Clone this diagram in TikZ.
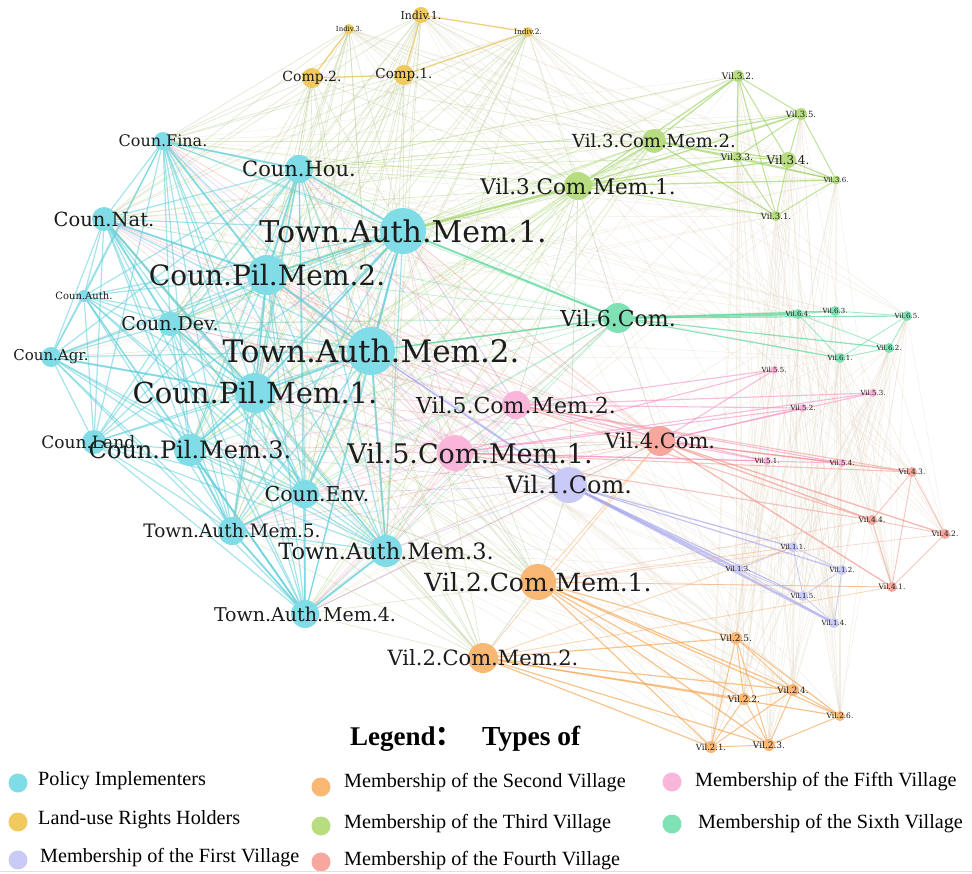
\documentclass[tikz,border=0pt]{standalone}
\usepackage{fontspec}
\setmainfont{Liberation Serif}
\newfontfamily\labfont{DejaVu Serif}
\newfontfamily\cjk{Noto Sans CJK SC}

\definecolor{cyN}{HTML}{80DCE6}
\definecolor{ylN}{HTML}{F1C95E}
\definecolor{grN}{HTML}{B7DD80}
\definecolor{tlN}{HTML}{80E2B4}
\definecolor{pkN}{HTML}{F9B6DA}
\definecolor{saN}{HTML}{F6A79E}
\definecolor{lvN}{HTML}{CACAF7}
\definecolor{orN}{HTML}{F9B774}
\definecolor{cyE}{HTML}{5CCFDA}
\definecolor{ylE}{HTML}{EBC052}
\definecolor{grE}{HTML}{9CD262}
\definecolor{tlE}{HTML}{50D696}
\definecolor{pkE}{HTML}{F590C4}
\definecolor{saE}{HTML}{F08A80}
\definecolor{lvE}{HTML}{A4A4EC}
\definecolor{orE}{HTML}{F5A552}
\definecolor{olE}{HTML}{B3C98A}
\definecolor{mxE}{HTML}{A9BFA2}
\definecolor{fnE}{HTML}{E2D6C0}
\definecolor{labink}{HTML}{1C1C1C}

\pgfdeclarelayer{paper}
\pgfdeclarelayer{edges}
\pgfdeclarelayer{labels}
\pgfsetlayers{paper,edges,main,labels}

\tikzset{
  vdot/.style={circle, inner sep=0pt, draw=none},
  vlab/.style={inner sep=0pt, text=labink},
  ecy/.style={draw=cyE, line width=1.2pt, opacity=.55},
  ecyh/.style={draw=cyE, line width=2pt, opacity=.55},
  eyl/.style={draw=ylE, line width=1.3pt, opacity=.75},
  eol/.style={draw=olE, line width=.7pt, opacity=.38},
  egr/.style={draw=grE, line width=1.2pt, opacity=.65},
  etl/.style={draw=tlE, line width=1.2pt, opacity=.65},
  epk/.style={draw=pkE, line width=1.1pt, opacity=.6},
  esa/.style={draw=saE, line width=1.1pt, opacity=.6},
  elv/.style={draw=lvE, line width=1.2pt, opacity=.65},
  eor/.style={draw=orE, line width=1.2pt, opacity=.65},
  efn/.style={draw=fnE, line width=.5pt, opacity=.4},
  legtxt/.style={anchor=west, inner sep=0pt, font=\fontsize{20.2}{21}\selectfont},
}

% name, x, y, diameter, font size, fill, label, label dx, label dy
\newcommand\netnode[9]{%
  \node[vdot, fill=#6, minimum size=#4pt] (#1) at (#2,#3) {};
  \begin{pgfonlayer}{labels}
    \node[vlab, font={\labfont\fontsize{#5}{#5}\selectfont}] (#1-l)
      at ([shift={(#8,#9)}]#1.center) {#7};
  \end{pgfonlayer}}

\begin{document}
\begin{tikzpicture}[x=1pt, y=-1pt]
\begin{pgfonlayer}{paper}
  \fill[white] (0,0) rectangle (972,873);
\end{pgfonlayer}
\useasboundingbox (0,0) rectangle (972,873);

% ---- policy implementers
\netnode{cfina}{163}{141}{18}{16}{cyN}{Coun.Fina.}{0}{0}
\netnode{chou}{299}{169}{28}{21}{cyN}{Coun.Hou.}{0}{0}
\netnode{cnat}{104}{219}{24}{19.5}{cyN}{Coun.Nat.}{0}{0}
\netnode{tam1}{403}{231}{46}{30}{cyN}{Town.Auth.Mem.1.}{0}{0}
\netnode{cpm2}{267}{275}{40}{28}{cyN}{Coun.Pil.Mem.2.}{0}{0}
\netnode{cauth}{84}{296}{12}{10}{cyN}{Coun.Auth.}{0}{0}
\netnode{cdev}{170}{324}{24}{19}{cyN}{Coun.Dev.}{0}{0}
\netnode{cagr}{51}{357}{20}{15}{cyN}{Coun.Agr.}{0}{0}
\netnode{tam2}{371}{351}{48}{31}{cyN}{Town.Auth.Mem.2.}{0}{0}
\netnode{cpm1}{255}{393}{40}{29}{cyN}{Coun.Pil.Mem.1.}{0}{0}
\netnode{cland}{94}{442}{24}{17}{cyN}{Coun.Land.}{-3}{0}
\netnode{cpm3}{190}{450}{32}{24}{cyN}{Coun.Pil.Mem.3.}{0}{0}
\netnode{cenv}{305}{494}{28}{20.5}{cyN}{Coun.Env.}{12}{0}
\netnode{tam5}{232}{531}{28}{18.5}{cyN}{Town.Auth.Mem.5.}{0}{0}
\netnode{tam3}{386}{551}{32}{22.5}{cyN}{Town.Auth.Mem.3.}{0}{0}
\netnode{tam4}{305}{614}{28}{19}{cyN}{Town.Auth.Mem.4.}{0}{0}

% ---- land-use rights holders
\netnode{ind1}{421}{15}{16}{11}{ylN}{Indiv.1.}{0}{0}
\netnode{ind3}{349}{29}{10}{7}{ylN}{Indiv.3.}{0}{0}
\netnode{ind2}{528}{32}{10}{7.5}{ylN}{Indiv.2.}{0}{0}
\netnode{comp2}{312}{78}{20}{14}{ylN}{Comp.2.}{0}{0}
\netnode{comp1}{404}{75}{20}{13.5}{ylN}{Comp.1.}{0}{0}

% ---- third village
\netnode{v3cm2}{654}{141}{24}{18}{grN}{Vil.3.Com.Mem.2.}{0}{0}
\netnode{v3cm1}{578}{186}{28}{21.5}{grN}{Vil.3.Com.Mem.1.}{0}{0}
\netnode{v32}{738}{76}{12}{9}{grN}{Vil.3.2.}{0}{0}
\netnode{v35}{801}{114}{12}{8.5}{grN}{Vil.3.5.}{0}{0}
\netnode{v33}{737}{157}{11}{9}{grN}{Vil.3.3.}{0}{0}
\netnode{v34}{788}{160}{16}{12}{grN}{Vil.3.4.}{0}{0}
\netnode{v36}{836}{180}{9}{7}{grN}{Vil.3.6.}{0}{0}
\netnode{v31}{776}{216}{10}{8.5}{grN}{Vil.3.1.}{0}{0}

% ---- sixth village
\netnode{v6c}{618}{318}{30}{22}{tlN}{Vil.6.Com.}{0}{0}
\netnode{v64}{798}{314}{10}{7}{tlN}{Vil.6.4.}{0}{0}
\netnode{v63}{835}{311}{10}{7}{tlN}{Vil.6.3.}{0}{0}
\netnode{v65}{907}{316}{10}{7}{tlN}{Vil.6.5.}{0}{0}
\netnode{v62}{889}{348}{10}{7}{tlN}{Vil.6.2.}{0}{0}
\netnode{v61}{840}{358}{10}{7}{tlN}{Vil.6.1.}{0}{0}

% ---- fifth village
\netnode{v5cm2}{516}{405}{28}{22}{pkN}{Vil.5.Com.Mem.2.}{0}{0}
\netnode{v5cm1}{455}{453}{36}{27}{pkN}{Vil.5.Com.Mem.1.}{15}{0}
\netnode{v55}{774}{370}{8}{7}{pkN}{Vil.5.5.}{0}{0}
\netnode{v53}{873}{393}{8}{7}{pkN}{Vil.5.3.}{0}{0}
\netnode{v52}{803}{408}{8}{7}{pkN}{Vil.5.2.}{0}{0}
\netnode{v51}{767}{461}{8}{7}{pkN}{Vil.5.1.}{0}{0}
\netnode{v54}{842}{463}{8}{7}{pkN}{Vil.5.4.}{0}{0}

% ---- fourth village
\netnode{v4c}{660}{441}{30}{21}{saN}{Vil.4.Com.}{0}{0}
\netnode{v43}{912}{472}{10}{7.5}{saN}{Vil.4.3.}{0}{0}
\netnode{v44}{872}{520}{10}{7.5}{saN}{Vil.4.4.}{0}{0}
\netnode{v42}{945}{534}{10}{7.5}{saN}{Vil.4.2.}{0}{0}
\netnode{v41}{892}{587}{10}{7.5}{saN}{Vil.4.1.}{0}{0}

% ---- first village
\netnode{v1c}{569}{485}{36}{24}{lvN}{Vil.1.Com.}{0}{0}
\netnode{v11}{793}{547}{10}{7}{lvN}{Vil.1.1.}{0}{0}
\netnode{v13}{738}{569}{10}{7}{lvN}{Vil.1.3.}{0}{0}
\netnode{v12}{842}{570}{10}{7}{lvN}{Vil.1.2.}{0}{0}
\netnode{v15}{803}{596}{10}{7}{lvN}{Vil.1.5.}{0}{0}
\netnode{v14}{834}{623}{10}{7}{lvN}{Vil.1.4.}{0}{0}

% ---- second village
\netnode{v2cm1}{538}{582}{36}{25}{orN}{Vil.2.Com.Mem.1.}{0}{0}
\netnode{v2cm2}{483}{658}{30}{21}{orN}{Vil.2.Com.Mem.2.}{0}{0}
\netnode{v25}{736}{638}{12}{9}{orN}{Vil.2.5.}{0}{0}
\netnode{v24}{793}{690}{12}{8.7}{orN}{Vil.2.4.}{0}{0}
\netnode{v22}{744}{699}{12}{9}{orN}{Vil.2.2.}{0}{0}
\netnode{v26}{840}{716}{10}{7.5}{orN}{Vil.2.6.}{0}{0}
\netnode{v21}{711}{747}{12}{8.5}{orN}{Vil.2.1.}{0}{0}
\netnode{v23}{769}{745}{12}{9}{orN}{Vil.2.3.}{0}{0}

% ================= connectors
\begin{pgfonlayer}{edges}
% faint background ties between village members
\foreach \a in {v32,v35,v33,v34,v36,v31}
  \foreach \b in {v21,v23,v22,v24,v26,v25,v41,v14}
    \draw[efn] (\a.center) -- (\b.center);
\foreach \a in {v64,v63,v65,v62,v61}
  \foreach \b in {v41,v42,v44,v11,v12,v15,v24,v26,v23}
    \draw[efn] (\a.center) -- (\b.center);
\foreach \a in {v55,v53,v52,v51,v54}
  \foreach \b in {v21,v22,v25,v13,v14,v62}
    \draw[efn] (\a.center) -- (\b.center);
\foreach \a in {v21,v22,v23,v24,v25,v26,v11,v13,v15}
  \foreach \b in {tam1,tam2,cpm1,cpm2,tam3}
    \draw[efn] (\a.center) -- (\b.center);
\foreach \a in {ind1,ind2,ind3}
  \foreach \b in {v31,v34,v36,v64,v65,v43,v42,v25,v14}
    \draw[efn] (\a.center) -- (\b.center);
\foreach \a in {v31,v32,v35,v36,v64,v63,v61}
  \foreach \b in {cfina,cnat,chou,cdev,tam4,cagr}
    \draw[efn] (\a.center) -- (\b.center);

% policy implementers: dense mutual ties
\foreach \a [count=\i] in {cfina,chou,cnat,tam1,cpm2,cauth,cdev,cagr,tam2,cpm1,cland,cpm3,cenv,tam5,tam3,tam4}
  \foreach \b [count=\j] in {cfina,chou,cnat,tam1,cpm2,cauth,cdev,cagr,tam2,cpm1,cland,cpm3,cenv,tam5,tam3,tam4}
    {\ifnum\j>\i \draw[ecy] (\a.center) -- (\b.center); \fi}
\foreach \a/\b in {tam1/cpm2,tam1/tam2,tam1/chou,tam1/cpm1,tam2/cpm1,tam2/cpm2,
  cpm1/cpm3,cpm2/cpm1,tam2/tam3,cpm1/cenv,tam3/tam4,tam5/tam4,cpm3/tam5,
  cnat/cpm2,cfina/cpm2,cnat/cdev,cdev/cpm1,tam2/cenv,cpm2/chou,cfina/chou,
  cnat/cpm1,cpm3/tam4,cenv/tam5,cagr/cpm1}
  \draw[ecyh] (\a.center) -- (\b.center);

% land-use rights holders
\foreach \a/\b in {ind1/ind2,ind3/comp2,comp2/comp1,comp1/ind2,ind1/comp1}
  \draw[eyl] (\a.center) -- (\b.center);
\foreach \a in {comp1,comp2,ind1,ind2,ind3}
  \foreach \b in {tam1,tam2,cpm1,cpm2,chou,cfina,cnat,cdev,cpm3,tam3,cenv,tam5,v3cm1,v3cm2}
    \draw[eol] (\a.center) -- (\b.center);

% community leaders tied to the implementers
\foreach \l/\c in {v3cm1/grE,v3cm2/grE,v6c/tlE,v5cm1/pkE,v5cm2/pkE,v4c/saE,v1c/lvE,v2cm1/olE,v2cm2/olE}
  \foreach \b in {tam1,tam2,tam3,tam4,tam5,cpm1,cpm2,cpm3,chou,cenv,cdev,cfina,cnat}
    \draw[draw=\c, line width=.7pt, opacity=.38] (\l.center) -- (\b.center);
\foreach \a/\b in {v3cm1/v6c,v3cm1/v5cm2,v6c/v5cm2,v6c/v5cm1,v5cm1/v5cm2,v5cm1/v1c,
  v5cm2/v1c,v4c/v1c,v1c/v2cm1,v5cm1/v2cm1,v2cm1/v2cm2,v4c/v5cm1,v3cm1/v1c,v6c/v4c}
  \draw[draw=mxE, line width=.8pt, opacity=.45] (\a.center) -- (\b.center);
\draw[egr, line width=2.4pt] (v3cm1.center) -- (tam1.center);
\draw[etl, line width=2pt] (v6c.center) -- (tam1.center);
\draw[etl, line width=1.6pt] (v6c.center) -- (tam2.center);
\draw[elv, line width=1.6pt] (v1c.center) -- (tam2.center);

% third village
\foreach \a in {v3cm1,v3cm2}
  \foreach \b in {v32,v35,v33,v34,v36,v31}
    \draw[egr] (\a.center) -- (\b.center);
\foreach \a/\b in {v3cm1/v3cm2,v32/v35,v32/v34,v32/v31,v32/v33,v35/v34,v35/v36,v35/v33,
  v34/v36,v34/v31,v33/v34,v33/v31,v33/v36,v36/v31}
  \draw[egr, line width=1pt] (\a.center) -- (\b.center);
\foreach \a in {v32,v35,v33}
  \foreach \b in {tam1,chou}
    \draw[egr, line width=.7pt, opacity=.4] (\a.center) -- (\b.center);

% sixth village
\foreach \b in {v63,v65,v61,v62}
  \draw[etl] (v6c.center) -- (\b.center);
\draw[etl, line width=2.4pt] (v6c.center) -- (v64.center);
\foreach \a/\b in {v64/v63,v63/v65,v65/v61,v65/v62,v61/v62,v64/v62,v64/v61}
  \draw[etl, line width=.9pt, opacity=.5] (\a.center) -- (\b.center);

% fifth village
\foreach \a in {v5cm1,v5cm2,v4c}
  \foreach \b in {v55,v53,v52,v51,v54}
    \draw[epk] (\a.center) -- (\b.center);
\foreach \a in {v5cm1,v5cm2}
  \foreach \b in {v43,v44}
    \draw[esa, opacity=.5] (\a.center) -- (\b.center);

% fourth village
\foreach \b in {v43,v44,v42,v41}
  \draw[esa, line width=1.3pt] (v4c.center) -- (\b.center);
\foreach \a/\b in {v43/v44,v43/v42,v44/v42,v44/v41,v42/v41,v43/v41}
  \draw[esa, line width=.9pt, opacity=.5] (\a.center) -- (\b.center);
\foreach \a in {v41,v44,v42}
  \draw[esa, line width=.7pt, opacity=.35] (\a.center) -- (v2cm1.center);

% first village
\foreach \b in {v11,v12,v15}
  \draw[elv] (v1c.center) -- (\b.center);
\draw[elv, line width=2.4pt] (v1c.center) -- (v13.center);
\draw[elv, line width=2.4pt] (v1c.center) -- (v14.center);
\foreach \a/\b in {v11/v13,v11/v12,v11/v15,v12/v15,v12/v14,v15/v14,v13/v15,v13/v14}
  \draw[elv, line width=.9pt, opacity=.5] (\a.center) -- (\b.center);

% second village
\foreach \a in {v2cm1,v2cm2}
  \foreach \b in {v25,v24,v22,v26,v21,v23}
    \draw[eor] (\a.center) -- (\b.center);
\foreach \a/\b in {v25/v22,v25/v24,v25/v21,v25/v23,v22/v21,v22/v23,v22/v24,v24/v21,
  v24/v23,v24/v26,v26/v23,v21/v23,v25/v26}
  \draw[eor, line width=1pt] (\a.center) -- (\b.center);
\foreach \a in {v2cm1,v2cm2}
  \foreach \b in {v4c,v41,v11}
    \draw[eor, line width=.8pt, opacity=.45] (\a.center) -- (\b.center);
\end{pgfonlayer}

% ================= legend
\node[anchor=west, inner sep=0pt, font=\bfseries\fontsize{27}{28}\selectfont] (legA) at (350,739)
  {Legend{\cjk ：}};
\node[anchor=west, inner sep=0pt, font=\bfseries\fontsize{27.5}{28}\selectfont] (legB) at (482,739)
  {Types of};

\node[vdot, fill=cyN, minimum size=19pt] (k1) at (18,783) {};
\node[legtxt] (k1-t) at (38,781) {Policy Implementers};
\node[vdot, fill=ylN, minimum size=19pt] (k2) at (18,822) {};
\node[legtxt] (k2-t) at (38,820) {Land-use Rights Holders};
\node[vdot, fill=lvN, minimum size=19pt] (k3) at (18,860) {};
\node[legtxt] (k3-t) at (40,858) {Membership of the First Village};

\node[vdot, fill=orN, minimum size=19pt] (k4) at (321,787) {};
\node[legtxt] (k4-t) at (344,783) {Membership of the Second Village};
\node[vdot, fill=grN, minimum size=19pt] (k5) at (321,826) {};
\node[legtxt] (k5-t) at (344,824) {Membership of the Third Village};
\node[vdot, fill=saN, minimum size=19pt] (k6) at (321,862) {};
\node[legtxt] (k6-t) at (344,861) {Membership of the Fourth Village};

\node[vdot, fill=pkN, minimum size=19pt] (k7) at (672,782) {};
\node[legtxt] (k7-t) at (695,782) {Membership of the Fifth Village};
\node[vdot, fill=tlN, minimum size=19pt] (k8) at (672,824) {};
\node[legtxt] (k8-t) at (698,824) {Membership of the Sixth Village};

\coordinate (rule-a) at (0,871);
\coordinate (rule-b) at (972,871);
\draw[draw=black!12, line width=1pt] (rule-a) -- (rule-b);
\end{tikzpicture}
\end{document}
